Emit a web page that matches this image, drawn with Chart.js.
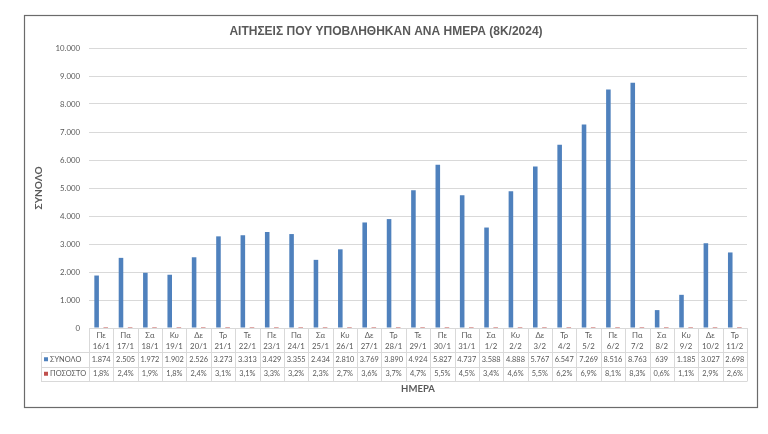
<!DOCTYPE html>
<html>
<head>
<meta charset="utf-8">
<script src="https://cdn.jsdelivr.net/npm/chart.js@4/dist/chart.umd.min.js"></script>
<style>
html,body{margin:0;padding:0;background:#fff;}
#wrap{width:768px;height:434px;position:relative;}
</style>
</head>
<body>
<div id="wrap"><canvas id="c" width="768" height="434"></canvas></div>
<script>
// ---- data ----
const titleText = 'ΑΙΤΗΣΕΙΣ ΠΟΥ ΥΠΟΒΛΗΘΗΚΑΝ ΑΝΑ ΗΜΕΡΑ (8Κ/2024)';
const days  = ['Πε','Πα','Σα','Κυ','Δε','Τρ','Τε','Πε','Πα','Σα','Κυ','Δε','Τρ','Τε','Πε','Πα','Σα','Κυ','Δε','Τρ','Τε','Πε','Πα','Σα','Κυ','Δε','Τρ'];
const dates = ['16/1','17/1','18/1','19/1','20/1','21/1','22/1','23/1','24/1','25/1','26/1','27/1','28/1','29/1','30/1','31/1','1/2','2/2','3/2','4/2','5/2','6/2','7/2','8/2','9/2','10/2','11/2'];
const synolo  = [1874,2505,1972,1902,2526,3273,3313,3429,3355,2434,2810,3769,3890,4924,5827,4737,3588,4888,5767,6547,7269,8516,8763,639,1185,3027,2698];
const pososto = [0.018,0.024,0.019,0.018,0.024,0.031,0.031,0.033,0.032,0.023,0.027,0.036,0.037,0.047,0.055,0.045,0.034,0.046,0.055,0.062,0.069,0.081,0.083,0.006,0.011,0.029,0.026];
const seriesNames = ['ΣΥΝΟΛΟ','ΠΟΣΟΣΤΟ'];
const yAxisTitle = 'ΣΥΝΟΛΟ';
const xAxisTitle = 'ΗΜΕΡΑ';
const yMin = 0, yMax = 10000, yStep = 1000;

// ---- styles ----
const FONT = "Lato, 'Open Sans', sans-serif";
const TXT = '#595959';
const BLUE = '#4F81BD';
const RED = '#C0504D';
const GRID = '#d9d9d9';

function fmtInt(v){ return String(v).replace(/\B(?=(\d{3})+(?!\d))/g, '.'); }
function fmtPct(v){ return (v*100).toFixed(1).replace('.', ',') + '%'; }

const framePlugin = {
  id:'frame',
  beforeDraw(chart){
    const c = chart.ctx;
    c.save();
    c.fillStyle = '#fff';
    c.fillRect(0,0,chart.width,chart.height);
    c.strokeStyle = '#6b6b6b';
    c.lineWidth = 1.2;
    c.strokeRect(24.5, 15.5, 733, 392);
    c.restore();
  }
};

const tablePlugin = {
  id:'dataTable',
  afterDraw(chart){
    const c = chart.ctx;
    const ca = chart.chartArea;
    const x = chart.scales.x;
    const n = dates.length;
    const colW = (x.right - x.left) / n;
    const top = ca.bottom;
    const r1 = top + 24, r2 = r1 + 14.5, r3 = r2 + 14.5;
    const leftX = 41;
    c.save();
    c.strokeStyle = GRID;
    c.lineWidth = 1;
    c.beginPath();
    c.moveTo(x.left, Math.round(top)+0.5); c.lineTo(x.right, Math.round(top)+0.5);
    [r1, r2, r3].forEach(y => { const yy = Math.round(y)+0.5; c.moveTo(leftX, yy); c.lineTo(x.right, yy); });
    for (let i = 0; i <= n; i++) {
      const xe = Math.round(x.left + i*colW) + 0.5;
      c.moveTo(xe, top); c.lineTo(xe, Math.round(r3)+0.5);
    }
    c.moveTo(leftX+0.5, Math.round(r1)+0.5); c.lineTo(leftX+0.5, Math.round(r3)+0.5);
    c.stroke();

    c.fillStyle = TXT;
    c.textAlign = 'center';
    c.textBaseline = 'middle';
    for (let i = 0; i < n; i++) {
      const cx = x.getPixelForValue(i);
      c.font = '7.8px ' + FONT;
      c.fillText(days[i], cx, top + 7.5);
      c.fillText(dates[i], cx, top + 18.3);
      c.font = '7.4px ' + FONT;
      c.fillText(fmtInt(synolo[i]), cx, (r1+r2)/2);
      c.fillText(fmtPct(pososto[i]), cx, (r2+r3)/2);
    }
    c.fillStyle = BLUE; c.fillRect(44, (r1+r2)/2 - 2, 4, 4);
    c.fillStyle = RED;  c.fillRect(44, (r2+r3)/2 - 2, 4, 4);
    c.fillStyle = TXT;
    c.textAlign = 'left';
    c.font = '7.4px ' + FONT;
    c.fillText(seriesNames[0], 50, (r1+r2)/2);
    c.fillText(seriesNames[1], 50, (r2+r3)/2);
    c.restore();
  }
};

new Chart(document.getElementById('c').getContext('2d'), {
  type: 'bar',
  data: {
    labels: dates,
    datasets: [
      { label: seriesNames[0], data: synolo, backgroundColor: BLUE, borderWidth: 0, categoryPercentage: 0.75, barPercentage: 0.5 },
      { label: seriesNames[1], data: pososto, backgroundColor: RED, borderWidth: 0, categoryPercentage: 0.75, barPercentage: 0.5 }
    ]
  },
  options: {
    responsive: false,
    animation: false,
    devicePixelRatio: 1,
    layout: { padding: { left: 25, top: 15, right: 21, bottom: 27 } },
    plugins: {
      legend: { display: false },
      tooltip: { enabled: false },
      title: {
        display: true, text: titleText, color: TXT,
        font: { family: "'Liberation Sans', Arial, sans-serif", size: 12, weight: 'bold' },
        padding: { top: 9, bottom: 9.6 }
      }
    },
    scales: {
      x: {
        grid: { display: false },
        border: { display: false },
        ticks: { display: false },
        title: { display: true, text: xAxisTitle, color: TXT, font: { family: FONT, size: 9.5, weight: 'bold' }, padding: { top: 0, bottom: 12 } },
        afterFit(s) { s.height = 79; }
      },
      y: {
        min: yMin, max: yMax,
        ticks: { stepSize: yStep, color: TXT, font: { family: FONT, size: 7.8 }, padding: 9, callback: v => fmtInt(v) },
        grid: { color: GRID, drawTicks: false },
        border: { display: false },
        title: { display: true, text: yAxisTitle, color: TXT, font: { family: FONT, size: 10, weight: 'bold' }, padding: { top: 8, bottom: 0 } },
        afterFit(s) { s.width = 64; }
      }
    }
  },
  plugins: [framePlugin, tablePlugin]
});
</script>
</body>
</html>
